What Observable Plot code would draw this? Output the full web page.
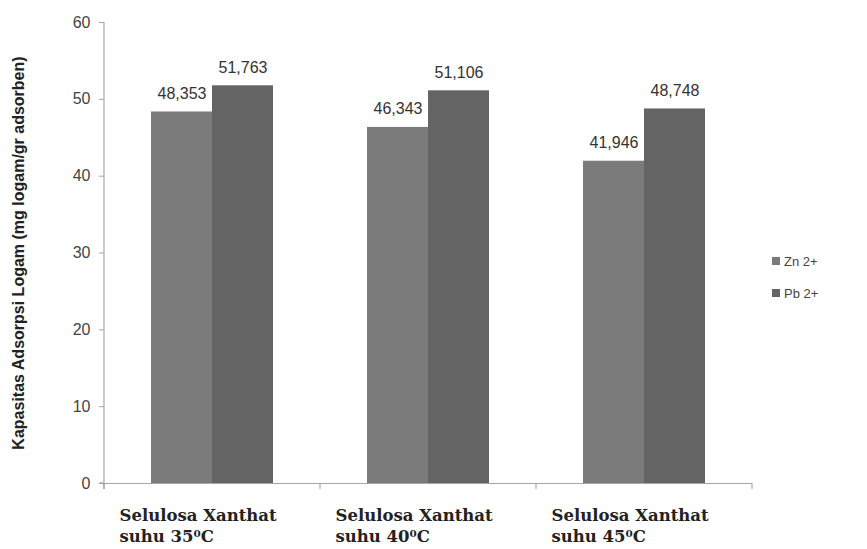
<!DOCTYPE html>
<html>
<head>
<meta charset="utf-8">
<script src="https://cdn.jsdelivr.net/npm/d3@7"></script>
<script src="https://cdn.jsdelivr.net/npm/@observablehq/plot@0.6"></script>
<style>
  html, body { margin: 0; padding: 0; background: #fff; }
  #wrap { position: relative; width: 867px; height: 549px; }
  #legend { position: absolute; left: 772px; top: 253px; font-family: "Liberation Sans", Arial, sans-serif; font-size: 13px; color: #444; }
  #legend .row { display: flex; align-items: center; height: 16px; margin-bottom: 16px; }
  #legend .sw { width: 8px; height: 8px; margin-right: 4px; }
</style>
</head>
<body>
<div id="wrap"><div id="legend"></div></div>
<script>
const categories = ["Selulosa Xanthat\nsuhu 35⁰C", "Selulosa Xanthat\nsuhu 40⁰C", "Selulosa Xanthat\nsuhu 45⁰C"];
const series = ["Zn 2+", "Pb 2+"];
const znValues = [48.353, 46.343, 41.946];
const pbValues = [51.763, 51.106, 48.748];
const seriesColors = ["#7b7b7b", "#646464"];
const yTicks = [0, 10, 20, 30, 40, 50, 60];
const yTitle = "Kapasitas Adsorpsi Logam (mg logam/gr adsorben)";

const data = [];
categories.forEach((c, i) => {
  data.push({category: c, series: series[0], value: znValues[i]});
  data.push({category: c, series: series[1], value: pbValues[i]});
});
const fmt = v => d3.format(".3f")(v).replace(".", ",");

const axisColor = "#a6a6a6";
const chart = Plot.plot({
  width: 867,
  height: 549,
  marginLeft: 103,
  marginRight: 114,
  marginTop: 22,
  marginBottom: 66,
  style: {fontFamily: "'Liberation Sans', Arial, sans-serif", background: "#fff"},
  fx: {domain: categories, padding: 0, axis: null},
  x: {domain: series, paddingInner: 0, paddingOuter: 0.75, axis: null},
  y: {domain: [0, 60], axis: null},
  color: {domain: series, range: seriesColors},
  marks: [
    Plot.barY(data, {fx: "category", x: "series", y: "value", fill: "series"}),
    Plot.ruleY([0], {stroke: axisColor, strokeWidth: 1.2}),
    Plot.text(data, {fx: "category", x: "series", y: "value", text: d => fmt(d.value),
      dy: -13, lineAnchor: "bottom", fontSize: 16, fill: "#333"}),
    Plot.axisY({ticks: yTicks, tickSize: 5, tickPadding: 9, stroke: axisColor, fill: "#444",
      fontSize: 16, label: null}),
    Plot.axisY({ticks: [], label: yTitle, labelAnchor: "center", labelArrow: "none",
      labelOffset: 92, fontSize: 16, fontWeight: "bold", fill: "#222", style: {letterSpacing: "1.2px"}}),
    Plot.axisFx({anchor: "bottom", tickSize: 0, tickPadding: 22, label: null, fontSize: 16.5, fontWeight: "bold",
      fontFamily: "'DejaVu Serif', 'Liberation Serif', serif", lineHeight: 1.3, fill: "#222",
      textAnchor: "start", dx: -93})
  ]
});

// Excel-style axis line and category boundary ticks, positioned through Plot's scales
const fx = chart.scale("fx"), y = chart.scale("y");
const y0 = y.apply(0), y60 = y.apply(60);
const bounds = categories.map(c => fx.apply(c));
bounds.push(fx.apply(categories[categories.length - 1]) + fx.bandwidth);
const g = d3.select(chart).append("g").attr("stroke", axisColor).attr("stroke-width", 1.2);
g.append("line").attr("x1", bounds[0]).attr("x2", bounds[0]).attr("y1", y60).attr("y2", y0 + 6);
bounds.forEach(b => g.append("line").attr("x1", b).attr("x2", b).attr("y1", y0).attr("y2", y0 + 6));
g.append("line").attr("x1", bounds[0] - 5).attr("x2", bounds[0]).attr("y1", y0).attr("y2", y0);

document.getElementById("wrap").prepend(chart);

const legend = document.getElementById("legend");
series.forEach((s, i) => {
  const row = document.createElement("div");
  row.className = "row";
  row.innerHTML = `<span class="sw" style="background:${seriesColors[i]}"></span><span>${s}</span>`;
  legend.appendChild(row);
});
</script>
</body>
</html>
